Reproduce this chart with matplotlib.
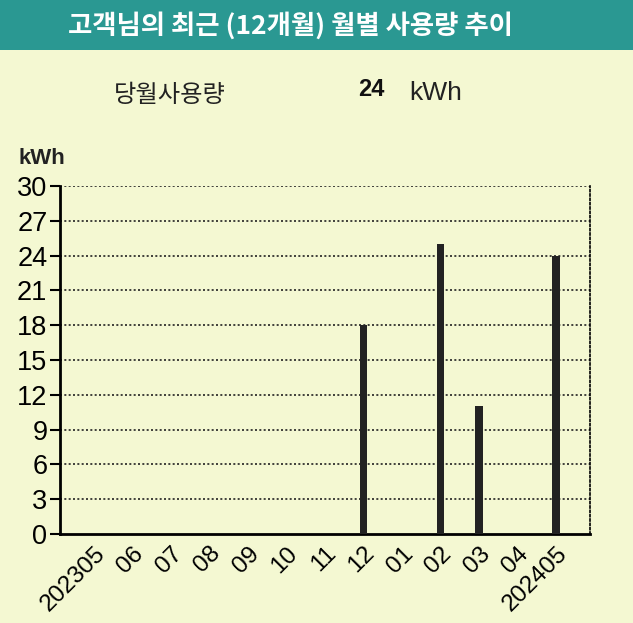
import matplotlib.pyplot as plt

plt.rcParams['font.family'] = ['Liberation Sans', 'Noto Sans CJK KR', 'DejaVu Sans']

# data read from the bill
months = ['202305', '06', '07', '08', '09', '10', '11', '12', '01', '02', '03', '04', '202405']
usage = [0, 0, 0, 0, 0, 0, 0, 18, 0, 25, 11, 0, 24]
yticks = [0, 3, 6, 9, 12, 15, 18, 21, 24, 27, 30]
this_month = 24

bg = '#f4f8d2'
teal = '#2a9892'

fig = plt.figure(figsize=(6.33, 6.23), dpi=100, facecolor=bg)

# title bar
fig.patches.append(plt.Rectangle((0, 1 - 50 / 623), 1, 50 / 623, transform=fig.transFigure,
                                 facecolor=teal, edgecolor='none', zorder=0))
fig.text(290 / 633, 1 - 26 / 623, '고객님의 최근 (12개월) 월별 사용량 추이', color='white',
         fontsize=19, fontweight='bold', ha='center', va='center',
         family=['Noto Sans CJK KR', 'DejaVu Sans'])

fig.text(114 / 633, 1 - 95 / 623, '당월사용량', fontsize=17.5, color='#222222',
         ha='left', va='center', family=['Noto Sans CJK KR', 'DejaVu Sans'])
fig.text(371 / 633, 1 - 90 / 623, str(this_month), fontsize=17, fontweight='bold',
         color='#111111', ha='center', va='center')
fig.text(409 / 633, 1 - 93 / 623, 'kWh', fontsize=19, color='#222222', ha='left', va='center')

ax = fig.add_axes([60 / 633, 1 - 534 / 623, 530 / 633, 348 / 623])
ax.set_facecolor(bg)

x = list(range(len(months)))
ax.bar(x, usage, width=0.2, color='#222222', zorder=3)

ax.set_xlim(-0.88, 12.88)
ax.set_ylim(0, 30)
ax.set_yticks(yticks)
ax.set_yticklabels([str(t) for t in yticks], fontsize=19.5)
ax.set_xticks(x)
ax.set_xticklabels(months, fontsize=17.5, rotation=45, ha='right', rotation_mode='anchor')
ax.tick_params(axis='x', length=0, pad=6)
ax.tick_params(axis='y', length=7, width=1.5, pad=2, direction='out')

for t in yticks[1:]:
    ax.axhline(t, color='#222222', linestyle=(0, (1.2, 1.4)), linewidth=1.2, zorder=1)

ax.spines['top'].set_visible(False)
ax.spines['right'].set_linestyle((0, (1.2, 1.4)))
ax.spines['right'].set_linewidth(1.2)
ax.spines['left'].set_linewidth(2)
ax.spines['bottom'].set_linewidth(2)

fig.text(19 / 633, 1 - 158 / 623, 'kWh', fontsize=16, fontweight='bold', color='#222222',
         ha='left', va='center')

fig.savefig('out.png', dpi=100, facecolor=bg)
